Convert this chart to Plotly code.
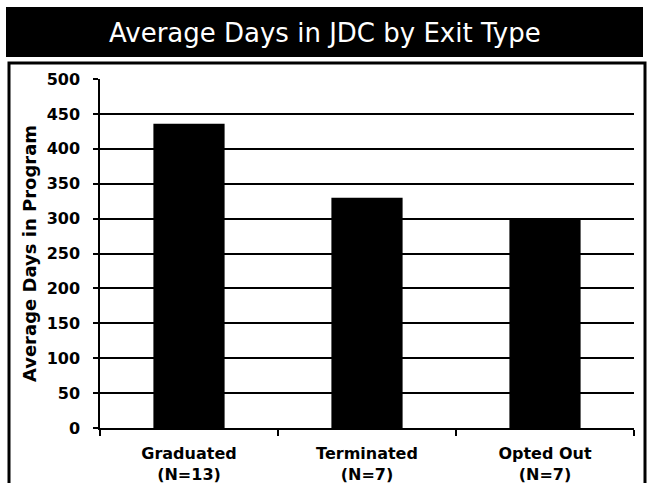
import plotly.graph_objects as go

categories = ["Graduated<br>(N=13)", "Terminated<br>(N=7)", "Opted Out<br>(N=7)"]
avg_days = [436, 330, 299]
y_ticks = [0, 50, 100, 150, 200, 250, 300, 350, 400, 450, 500]
title_text = "Average Days in JDC by Exit Type"
y_title = "Average Days in Program"

W, H = 650, 483
L, R, T, B = 100, 16, 79, 55
pw, ph = W - L - R, H - T - B

def px_x(p):
    return (p - L) / pw

def px_y(p):
    return (H - B - p) / ph

fig = go.Figure(go.Bar(x=categories, y=avg_days, marker=dict(color="black", line=dict(width=0)), width=0.4))

fig.update_layout(
    width=W, height=H,
    margin=dict(l=L, r=R, t=T, b=B, autoexpand=False),
    paper_bgcolor="white", plot_bgcolor="white",
    showlegend=False,
    font=dict(family="DejaVu Sans", color="black"),
    shapes=[
        dict(type="rect", xref="paper", yref="paper", x0=px_x(6), x1=px_x(643), y0=px_y(57), y1=px_y(7),
             fillcolor="black", line=dict(width=0), layer="below"),
        dict(type="rect", xref="paper", yref="paper", x0=px_x(9), x1=px_x(645), y0=px_y(495), y1=px_y(63),
             fillcolor="rgba(0,0,0,0)", line=dict(color="black", width=3), layer="above"),
    ],
    annotations=[
        dict(text=title_text, xref="paper", yref="paper", x=px_x(325), y=px_y(33), showarrow=False,
             font=dict(family="DejaVu Sans", size=26, color="white"), xanchor="center", yanchor="middle"),
    ],
)

fig.update_xaxes(
    automargin=False,
    showline=True, linecolor="black", linewidth=2,
    ticks="outside", tickson="boundaries", ticklen=6, tickwidth=1.5, tickcolor="black",
    ticklabelstandoff=10,
    tickfont=dict(family="DejaVu Sans", size=16, color="black", weight="bold"),
    showgrid=False,
)
fig.update_yaxes(
    automargin=False,
    range=[0, 500], tickvals=y_ticks,
    showline=True, linecolor="black", linewidth=1.5,
    ticks="outside", ticklen=5, tickwidth=1.5, tickcolor="black",
    ticklabelstandoff=10,
    showgrid=True, gridcolor="black", gridwidth=1.5,
    tickfont=dict(family="DejaVu Sans", size=16, color="black", weight="bold"),
    title=dict(text=y_title, font=dict(family="DejaVu Sans", size=18, color="black", weight="bold"), standoff=5),
    zeroline=False,
)

fig.write_html("out.html", config={"displayModeBar": False},
               post_script="document.body.style.margin='0';document.body.style.padding='0';")
